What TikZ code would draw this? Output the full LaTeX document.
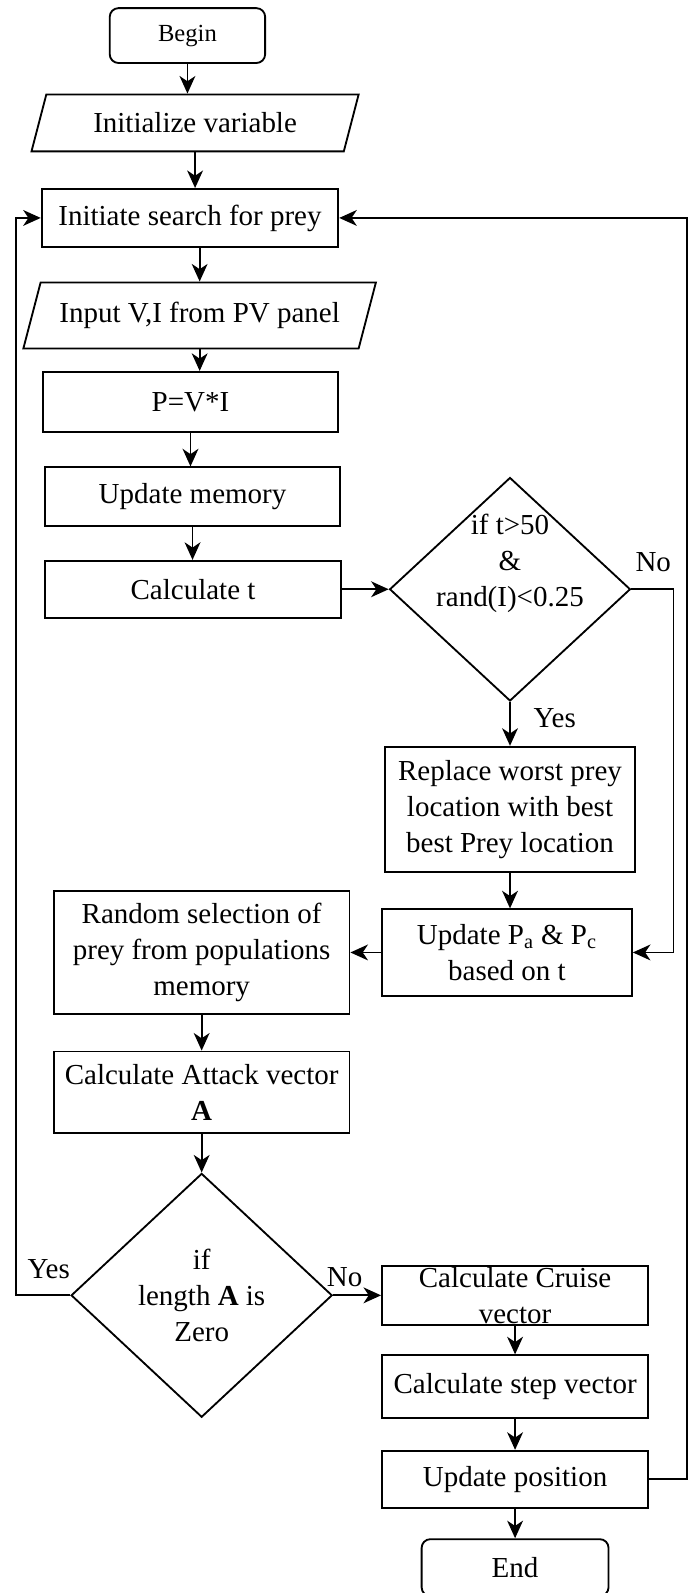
\documentclass[tikz,border=0pt]{standalone}
\usepackage{fontspec}
\setmainfont{Liberation Serif}
\usetikzlibrary{shapes.geometric, arrows.meta, positioning}
\newcommand{\px}{0.02032cm}
\newcommand{\txt}{\fontsize{16.5}{20.5}\selectfont}

\begin{document}
\begin{tikzpicture}[x=\px, y=-\px, line width=1.05pt,
    caja/.style={draw, rectangle, align=center, inner sep=0pt, font=\txt},
    terminal/.style={caja, rounded corners=5pt},
    datos/.style={draw, trapezium, trapezium stretches body, inner sep=0pt, font=\txt},
    decision/.style={draw, diamond, inner sep=0pt, font=\txt, align=center},
    flecha/.style={-{Stealth[length=10pt,width=9pt,inset=3pt]}},
    etiqueta/.style={font=\txt}]
    \useasboundingbox (0,0) rectangle (677,1568);
    % Columna izquierda
    \node[terminal, minimum width=153*\px, minimum height=54*\px, font=\fontsize{14}{17}\selectfont] (begin) at (184.5,35) {Begin};
    \node[datos, trapezium left angle=54, trapezium right angle=126, minimum width=322*\px, minimum height=56*\px] (init) at (192,121) {Initialize variable};
    \node[caja, minimum width=292*\px, minimum height=57*\px] (search) at (187,214.5) {Initiate search for prey};
    \node[datos, trapezium left angle=57, trapezium right angle=123, minimum width=347*\px, minimum height=65*\px] (input) at (196.5,310.5) {Input V,I from PV panel};
    \node[caja, minimum width=291*\px, minimum height=59*\px] (power) at (187.5,395.5) {P=V*I};
    \node[caja, minimum width=291*\px, minimum height=58*\px] (memory) at (189.5,489) {Update memory};
    \node[caja, minimum width=292*\px, minimum height=56*\px] (calct) at (190,580) {Calculate t};
    % Primera decision
    \node[decision, minimum width=237*\px, minimum height=220*\px, aspect=1.08] (cond) at (502,580) {};
    \node[font=\txt, align=center, inner sep=0pt] (condtext) at (502,555) {if t\textgreater50\\\&\\rand(I)\textless0.25};
    \node[caja, minimum width=246*\px, minimum height=123*\px] (replace) at (502,796.5) {Replace worst prey\\location with best\\best Prey location};
    \node[caja, minimum width=246*\px, minimum height=85*\px] (probs) at (499,937.5) {Update P\textsubscript{a} \& P\textsubscript{c}\\based on t};
    \node[caja, minimum width=291*\px, minimum height=121*\px] (random) at (198.5,937.5) {Random selection of\\prey from populations\\memory};
    \node[caja, minimum width=291*\px, minimum height=80*\px] (attack) at (198.5,1075) {Calculate Attack vector\\\textbf{A}};
    % Segunda decision
    \node[decision, minimum width=257*\px, minimum height=240*\px, aspect=1.07] (zero) at (198.5,1275) {if\\length \textbf{A} is\\Zero};
    \node[caja, minimum width=262*\px, minimum height=58*\px] (cruise) at (507,1275) {Calculate Cruise\\vector};
    \node[caja, minimum width=262*\px, minimum height=62*\px] (stepvec) at (507,1365) {Calculate step vector};
    \node[caja, minimum width=262*\px, minimum height=56*\px] (position) at (507,1456) {Update position};
    \node[terminal, minimum width=184*\px, minimum height=56*\px] (end) at (507,1543) {End};
    % Flechas verticales
    \foreach \a/\b in {begin/init, init/search, input/power, power/memory, memory/calct,
                       cond/replace, replace/probs, random/attack, attack/zero, cruise/stepvec, stepvec/position, position/end}
        \draw[flecha] (\a.south) -- (\a.south |- \b.north);
    \draw[flecha] (search.south -| input.north) -- (input.north);
    \node[etiqueta] (yescond) at (546,707) {Yes};
    \draw[flecha] (calct.east) -- (cond.west);
    \draw[flecha] (probs.west) -- (random.east);
    \draw[flecha] (zero.east) -- (cruise.west) node[etiqueta, pos=0.24, above=1pt] {No};
    % Lazos de retorno
    \coordinate (ladoder) at (663,580);
    \draw[flecha] (cond.east) -- (ladoder) -- (ladoder |- probs.east) -- (probs.east);
    \node[etiqueta] (nocond) at (643,553) {No};
    \coordinate (ladoizq) at (16,1275);
    \draw[flecha] (zero.west) -- (ladoizq) -- (ladoizq |- search.west) -- (search.west);
    \node[etiqueta] (yeszero) at (48,1249) {Yes};
    \coordinate (borde) at (676,1456);
    \draw[flecha] (position.east) -- (borde) -- (borde |- search.east) -- (search.east);
\end{tikzpicture}
\end{document}
